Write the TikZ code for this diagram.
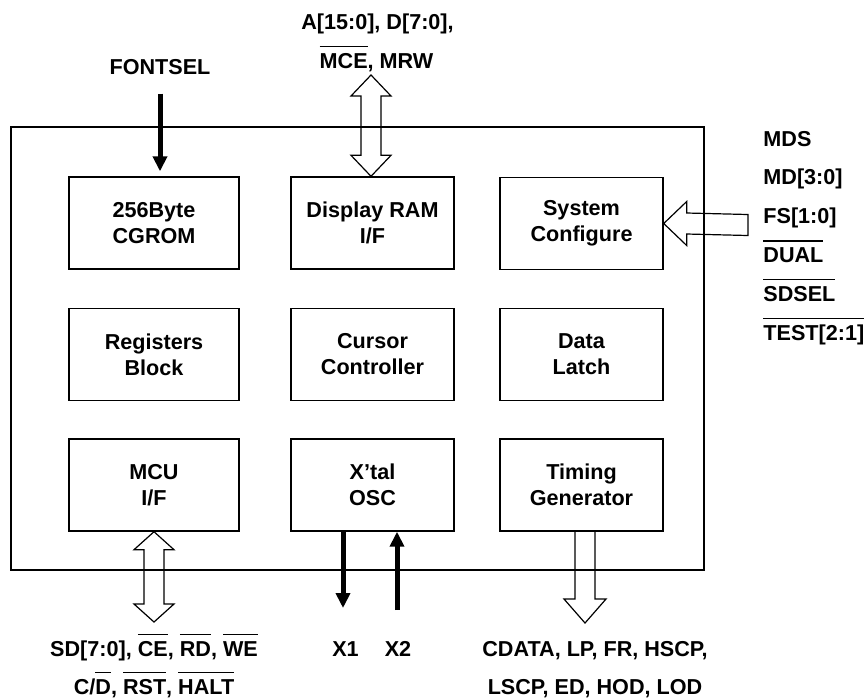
\documentclass[tikz,border=0pt]{standalone}
\usepackage{fontspec}
\setmainfont{Liberation Sans}
\usetikzlibrary{arrows.meta,calc}
\newcommand{\ovl}[1]{\leavevmode\setbox0\hbox{#1}\rlap{\rule[10.4pt]{\wd0}{0.65pt}}\box0}
\newcommand{\hollowboth}[3]{%
  \draw[hollow] (#1) -- ++(20,#3) -- ++(-10,0) -- ($(#2)+(10,-#3)$) -- ++(10,0) -- (#2)
    -- ++(-20,-#3) -- ++(10,0) -- ($(#1)+(-10,#3)$) -- ++(-10,0) -- cycle;}
\newcommand{\hollowdown}[2]{%
  \draw[hollow] ($(#1)+(-10,0)$) -- ($(#2)+(-10,-24)$) -- ++(-11,0) -- (#2)
    -- ++(21,-24) -- ++(-11,0) -- ($(#1)+(10,0)$);}
\newcommand{\hollowleft}[2]{%
  \draw[hollow] (#1) -- ++(23,-22) -- ++(0,11.5) -- ($(#2)+(0,-10.5)$) -- ($(#2)+(0,10.5)$)
    -- ($(#1)+(23,10.5)$) -- ++(0,11.5) -- cycle;}
\tikzset{
  block/.style={draw, line width=0.7pt, minimum width=81.5pt, minimum height=46pt, inner sep=0pt, align=center},
  sig/.style={inner sep=0pt, anchor=base},
  sigright/.style={inner sep=0pt, anchor=base west},
  hollow/.style={line width=0.6pt},
  fatline/.style={line width=2.5pt, -{Triangle[length=7.5pt,width=7pt]}}
}

\begin{document}
\begin{tikzpicture}[x=0.5pt, y=-0.5pt, font=\bfseries\fontsize{10.8}{13}\selectfont]
  \useasboundingbox (0,0) rectangle (865,698);
  \draw[line width=0.9pt] (11,127) rectangle (704,570);

  \node[block, minimum width=85pt] (cgrom) at (154,223) {256Byte\\CGROM};
  \node[block] (ram) at (372.5,223) {Display RAM\\I/F};
  \node[block] (sysconf) at (581.5,223.5) {System\\Configure};
  \node[block, minimum width=85pt] (regs) at (154,354.5) {Registers\\Block};
  \node[block] (cursor) at (372.5,354.5) {Cursor\\Controller};
  \node[block] (latch) at (581.5,354.5) {Data\\Latch};
  \node[block, minimum width=85pt] (mcu) at (154,485) {MCU\\I/F};
  \node[block] (xtal) at (372.5,485) {X'tal\\OSC};
  \node[block] (timing) at (581.5,485) {Timing\\Generator};

  \node[sig] (fontsel) at (160,74) {FONTSEL};
  \node[sig] (abus) at (377.5,29) {A[15:0], D[7:0],};
  \node[sig] (mbus) at (376.5,68) {\ovl{MCE}, MRW};

  \node[sigright] (mds) at (763,146) {MDS};
  \node[sigright] (md) at (763,184.8) {MD[3:0]};
  \node[sigright] (fs) at (763,223.6) {FS[1:0]};
  \node[sigright] (dual) at (763,262.4) {\ovl{DUAL}};
  \node[sigright] (sdsel) at (763,301.2) {\ovl{SDSEL}};
  \node[sigright] (test) at (763,340) {\ovl{TEST[2:1]}};

  \node[sig] (sdbus) at (154,656) {SD[7:0], \ovl{CE}, \ovl{RD}, \ovl{WE}};
  \node[sig] (ctlbus) at (154,694) {C/\ovl{D}, \ovl{RST}, \ovl{HALT}};
  \node[sig] (xone) at (345.5,656) {X1};
  \node[sig] (xtwo) at (398,656) {X2};
  \node[sig] (lcdbus) at (595,656) {CDATA, LP, FR, HSCP,};
  \node[sig] (lcdbustwo) at (595,694) {LSCP, ED, HOD, LOD};

  \draw[fatline, shorten <=9.5pt, shorten >=2.5pt] (fontsel.south) -- (fontsel.south |- cgrom.north);
  \coordinate (x1end) at (343,608);
  \coordinate (x2end) at (397,610);
  \draw[fatline] (x1end |- xtal.south) -- (x1end);
  \draw[fatline] (x2end) -- (x2end |- xtal.south);

  \coordinate (ramtip) at (371,75);
  \coordinate (ramend) at (ram.north -| ramtip);
  \hollowboth{ramtip}{ramend}{21}
  \coordinate (mcuend) at (154,622);
  \hollowboth{mcu.south}{mcuend}{18}
  \coordinate (tgend) at (585,623);
  \coordinate (tgtop) at (timing.south -| tgend);
  \hollowdown{tgtop}{tgend}
  \coordinate (cfgend) at (748,225);
  \hollowleft{sysconf.east}{cfgend}
\end{tikzpicture}
\end{document}
